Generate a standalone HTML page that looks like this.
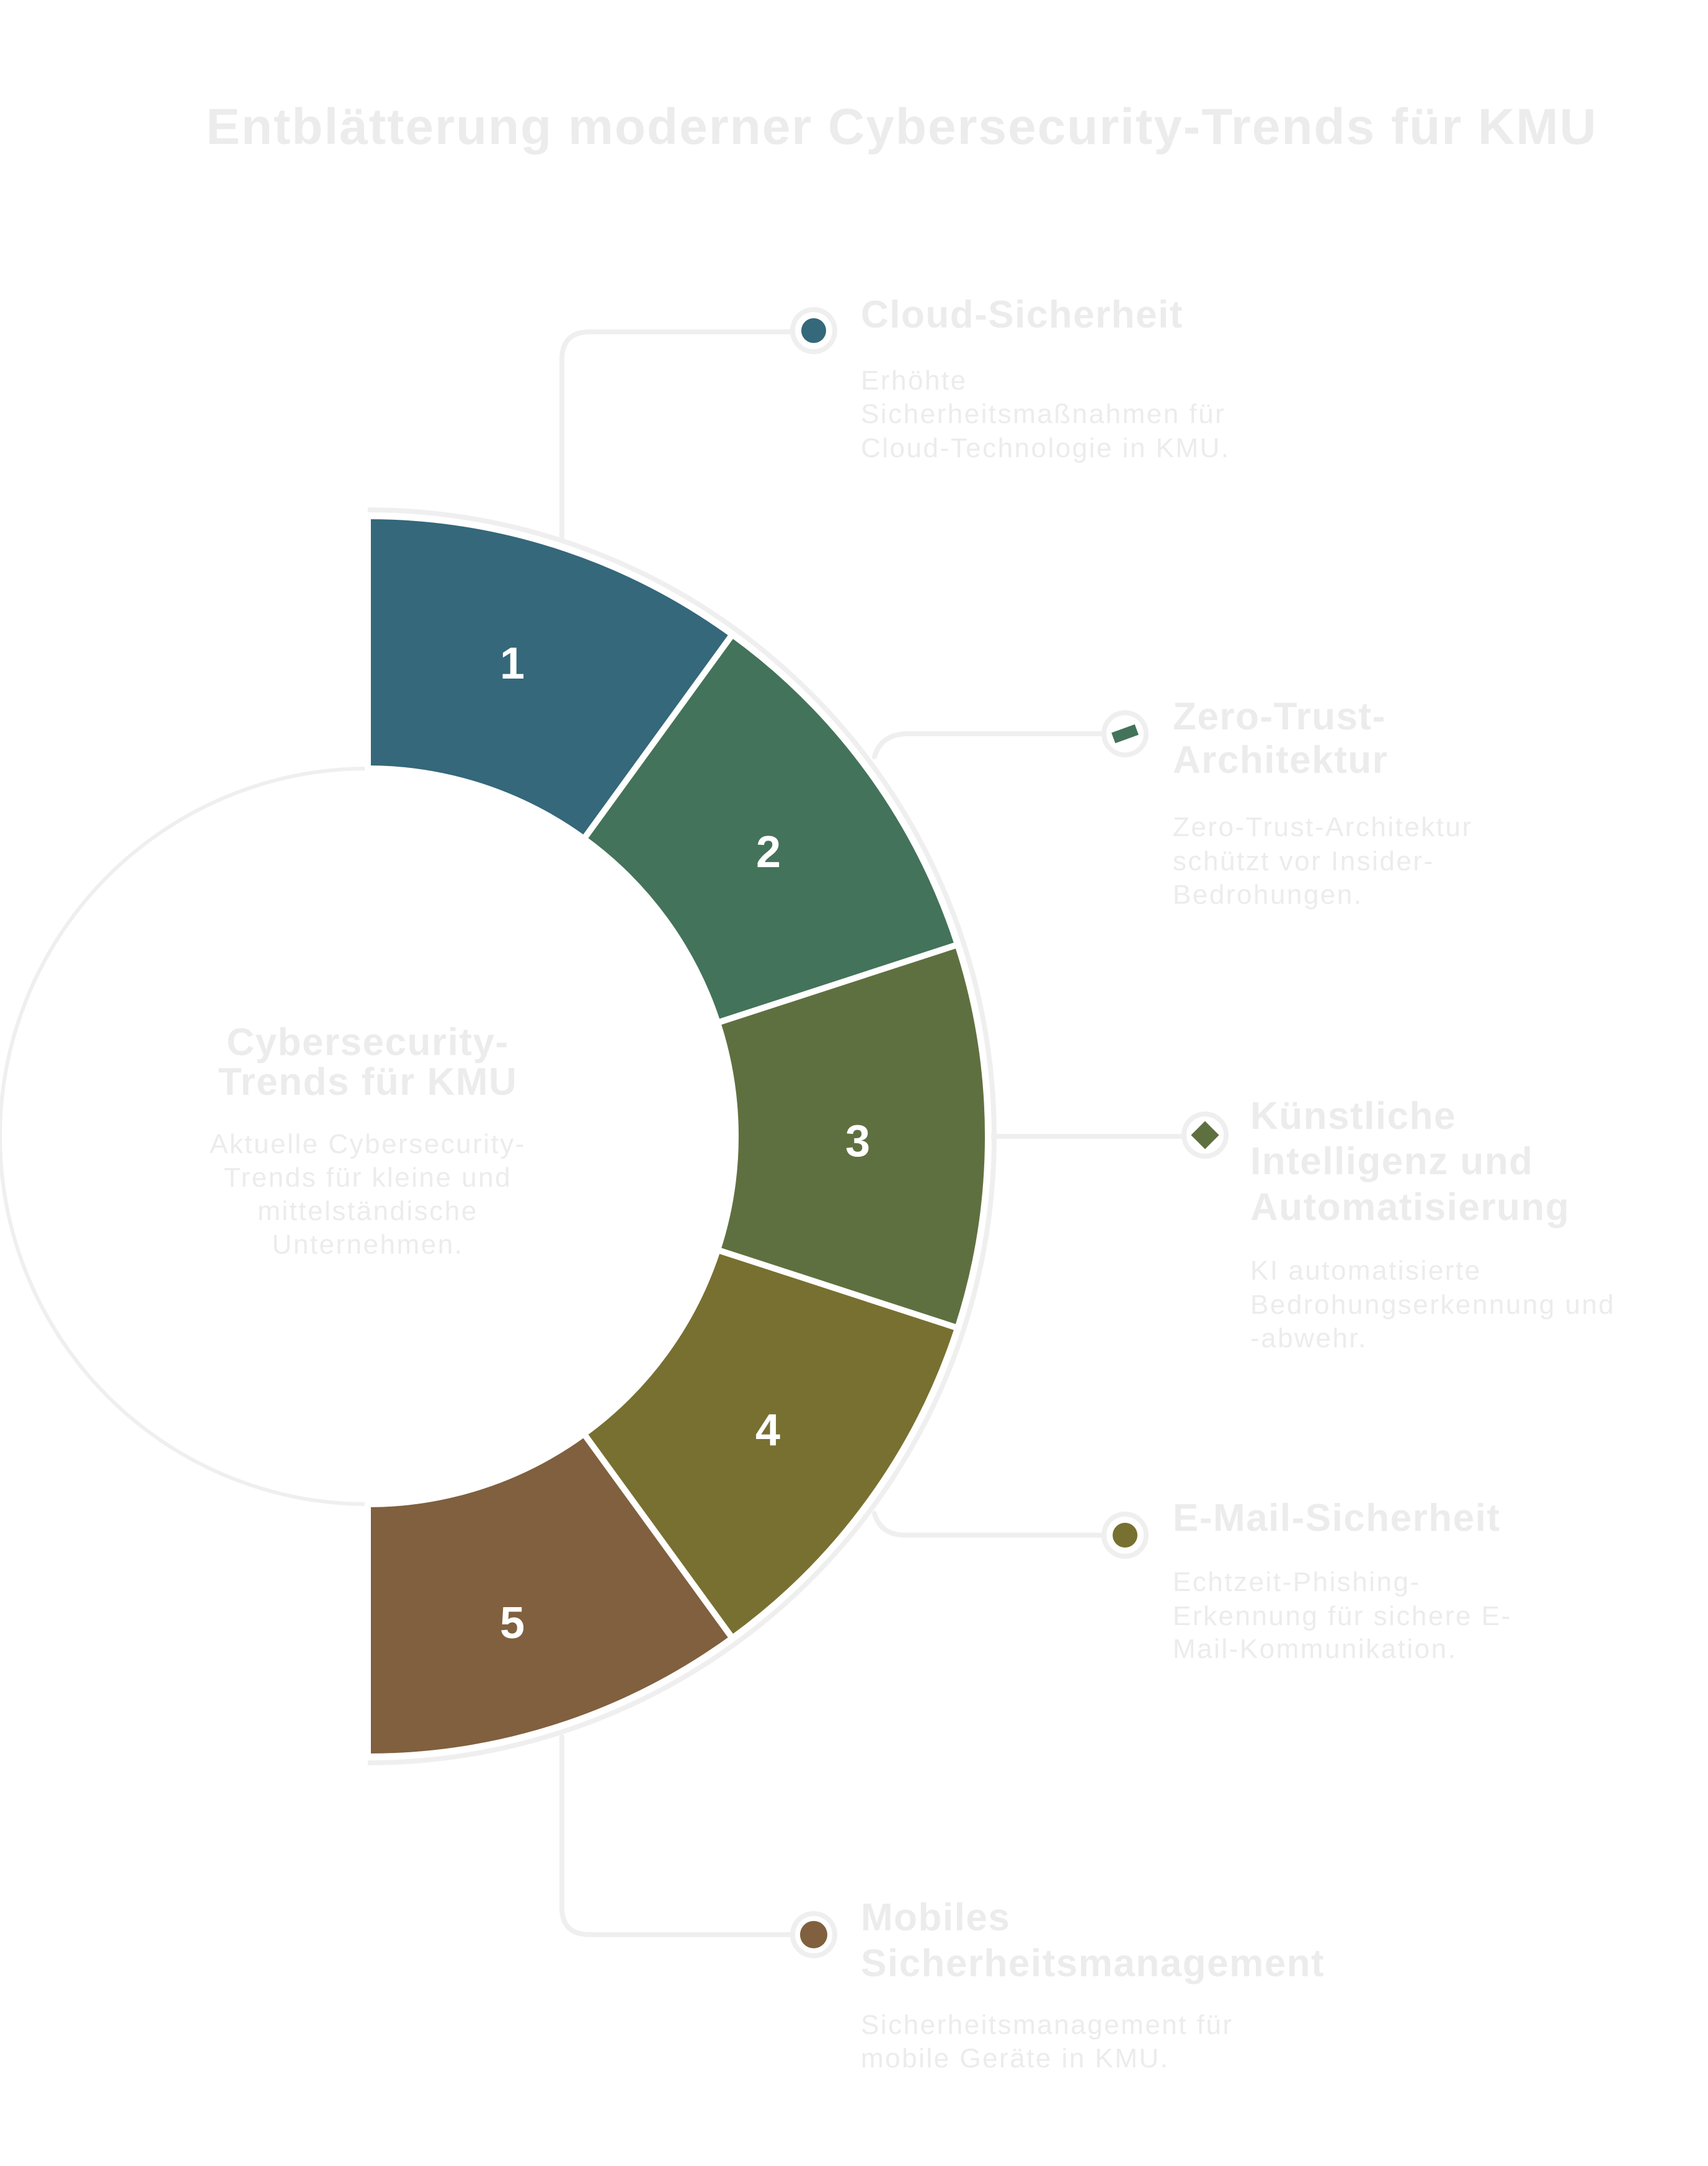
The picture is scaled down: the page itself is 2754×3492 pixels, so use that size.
<!DOCTYPE html>
<html><head><meta charset="utf-8"><style>
html,body{margin:0;padding:0;background:#fff;}
svg{display:block;}
.t{font-family:"Liberation Sans",sans-serif;fill:#ececec;}
.h{font-weight:bold;font-size:62px;letter-spacing:1.5px;}
.d{font-size:44px;letter-spacing:2.5px;}
.n{font-family:"Liberation Sans",sans-serif;font-weight:bold;font-size:72px;fill:#fff;text-anchor:middle;}
.ln{fill:none;stroke:#efefef;stroke-width:8;stroke-linecap:round;}
</style></head><body>
<svg width="2754" height="3492" viewBox="0 0 2754 3492" xmlns="http://www.w3.org/2000/svg">
<text class="t" x="1454" y="232" text-anchor="middle" font-weight="bold" font-size="82" letter-spacing="2">Entblätterung moderner Cybersecurity-Trends für KMU</text>

<!-- connectors -->
<path class="ln" d="M906 866 V580 Q906 535 951 535 H1310"/>
<path class="ln" d="M1410 1220 Q1420 1185 1460 1183 H1814"/>
<path class="ln" d="M1600 1832 H1943"/>
<path class="ln" d="M1410 2440 Q1420 2475 1460 2475 H1814"/>
<path class="ln" d="M906 2800 V3075 Q906 3119 951 3119 H1310"/>

<circle cx="593" cy="1832" r="593" fill="none" stroke="#efefef" stroke-width="6"/>
<path d="M593 822 A1010 1010 0 0 1 593 2842" fill="none" stroke="#efefef" stroke-width="8"/>

<g stroke="#fff" stroke-width="10" stroke-linejoin="round">
<path fill="#34687a" d="M593 832 A1000 1000 0 0 1 1180.8 1023 L941.6 1352.3 A593 593 0 0 0 593 1239 Z"/>
<path fill="#43735a" d="M1180.8 1023 A1000 1000 0 0 1 1544.1 1523 L1157 1648.8 A593 593 0 0 0 941.6 1352.3 Z"/>
<path fill="#5f7040" d="M1544.1 1523 A1000 1000 0 0 1 1544.1 2141 L1157 2015.2 A593 593 0 0 0 1157 1648.8 Z"/>
<path fill="#787030" d="M1544.1 2141 A1000 1000 0 0 1 1180.8 2641 L941.6 2311.7 A593 593 0 0 0 1157 2015.2 Z"/>
<path fill="#80603e" d="M1180.8 2641 A1000 1000 0 0 1 593 2832 L593 2425 A593 593 0 0 0 941.6 2311.7 Z"/>
</g>
<text class="n" x="826" y="1094">1</text>
<text class="n" x="1239" y="1398">2</text>
<text class="n" x="1383" y="1864">3</text>
<text class="n" x="1238" y="2330">4</text>
<text class="n" x="826" y="2641">5</text>

<g stroke="#efefef" stroke-width="8" fill="#fff">
<circle cx="1312" cy="533" r="34"/><circle cx="1814" cy="1183" r="34"/><circle cx="1943" cy="1830" r="34"/><circle cx="1814" cy="2475" r="34"/><circle cx="1312" cy="3119" r="34"/>
</g>
<circle cx="1312" cy="533" r="20" fill="#34687a"/>
<rect x="1794" y="1174" width="40" height="18" fill="#43735a" transform="rotate(-20 1814 1183)"/>
<rect x="1927" y="1814" width="32" height="32" fill="#5f7040" transform="rotate(45 1943 1830)"/>
<circle cx="1814" cy="2475" r="20" fill="#787030"/>
<circle cx="1312" cy="3119" r="22" fill="#80603e"/>

<text class="t h" x="1388" y="528">Cloud-Sicherheit</text>
<text class="t d" x="1388" y="628">Erhöhte</text>
<text class="t d" x="1388" y="682">Sicherheitsmaßnahmen für</text>
<text class="t d" x="1388" y="737">Cloud-Technologie in KMU.</text>

<text class="t h" x="1891" y="1176">Zero-Trust-</text>
<text class="t h" x="1891" y="1246">Architektur</text>
<text class="t d" x="1891" y="1348">Zero-Trust-Architektur</text>
<text class="t d" x="1891" y="1403">schützt vor Insider-</text>
<text class="t d" x="1891" y="1457">Bedrohungen.</text>

<text class="t h" x="2016" y="1820">Künstliche</text>
<text class="t h" x="2016" y="1893">Intelligenz und</text>
<text class="t h" x="2016" y="1967">Automatisierung</text>
<text class="t d" x="2016" y="2063">KI automatisierte</text>
<text class="t d" x="2016" y="2118">Bedrohungserkennung und</text>
<text class="t d" x="2016" y="2172">-abwehr.</text>

<text class="t h" x="1891" y="2468">E-Mail-Sicherheit</text>
<text class="t d" x="1891" y="2565">Echtzeit-Phishing-</text>
<text class="t d" x="1891" y="2620">Erkennung für sichere E-</text>
<text class="t d" x="1891" y="2673">Mail-Kommunikation.</text>

<text class="t h" x="1388" y="3112">Mobiles</text>
<text class="t h" x="1388" y="3186">Sicherheitsmanagement</text>
<text class="t d" x="1388" y="3279">Sicherheitsmanagement für</text>
<text class="t d" x="1388" y="3333">mobile Geräte in KMU.</text>

<g text-anchor="middle">
<text class="t h" x="593" y="1701">Cybersecurity-</text>
<text class="t h" x="593" y="1765">Trends für KMU</text>
<text class="t d" x="593" y="1859">Aktuelle Cybersecurity-</text>
<text class="t d" x="593" y="1913">Trends für kleine und</text>
<text class="t d" x="593" y="1967">mittelständische</text>
<text class="t d" x="593" y="2021">Unternehmen.</text>
</g>
</svg>
</body></html>
